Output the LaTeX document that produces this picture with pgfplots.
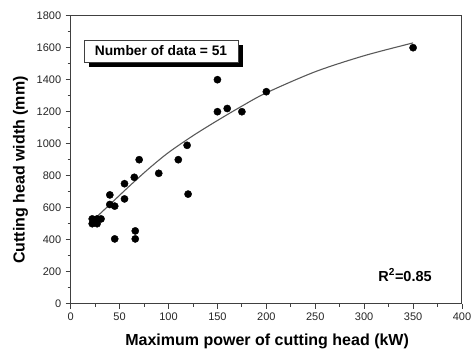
\documentclass[border=0pt]{standalone}
\usepackage{fontspec}
\setmainfont{Liberation Sans}
\usepackage{pgfplots}
\pgfplotsset{compat=1.18}
\usetikzlibrary{shadows}
\definecolor{axisgray}{gray}{0.25}
\definecolor{fitgray}{gray}{0.35}
\begin{document}
\begin{tikzpicture}
\begin{axis}[
  scale only axis,
  width=391.3pt, height=288pt,
  xmin=0, xmax=400, ymin=0, ymax=1800,
  xtick={0,50,...,400}, ytick={0,200,...,1800},
  minor x tick num=1, minor y tick num=1,
  tick pos=left, tick align=outside,
  major tick length=5pt, minor tick length=3pt,
  axis line style={axisgray, line width=1pt},
  every tick/.style={axisgray, line width=0.8pt},
  /pgf/number format/assume math mode=true,
  /pgf/number format/1000 sep={},
  tick label style={font=\fontsize{11}{13}\selectfont, text=black!85},
  xticklabel style={yshift=-1pt},
  yticklabel style={xshift=-1pt},
  xlabel={Maximum power of cutting head (kW)},
  ylabel={Cutting head width (mm)},
  xlabel style={at={(axis description cs:0.502,-0.1434)}, anchor=base, font=\bfseries\fontsize{16}{18}\selectfont},
  ylabel style={at={(axis description cs:-0.1176,0.464)}, anchor=base, rotate=0, font=\bfseries\fontsize{16}{18}\selectfont},
  clip=false,
]
\addplot[fitgray, line width=1.1pt, smooth, tension=0.5] coordinates {
  (20,505) (40,620) (60,735) (80,845) (100,945) (125,1050) (150,1145)
  (175,1235) (200,1318) (250,1450) (300,1550) (350,1630)
};
\addplot[only marks, mark=*, mark size=3.6pt, black] coordinates {
  (22,530) (22,500) (27,530) (27,500) (31,530) (24,515)
  (40,680) (40,620) (45,610) (45,405)
  (55,750) (55,655) (65,790) (66,455) (66,405)
  (70,900) (90,815) (110,900) (119,990) (120,685)
  (150,1200) (150,1400) (160,1220) (175,1200) (200,1325) (350,1600)
};
\node[draw=axisgray, line width=0.6pt, fill=white, minimum width=154pt, minimum height=22pt, inner sep=0pt,
  font=\bfseries\fontsize{13.8}{16}\selectfont,
  drop shadow={shadow xshift=5pt, shadow yshift=-5pt, fill=black, opacity=1}]
  at (axis cs:92.3,1579) {Number of data = 51};
\node[font=\bfseries\fontsize{14.5}{16}\selectfont] at (axis cs:341.8,179) {R\textsuperscript{2}=0.85};
\end{axis}
\pgfresetboundingbox
\path[use as bounding box] (current axis.origin) ++(-70.7pt,-45.3pt) rectangle ++(474pt,349pt);
\end{tikzpicture}
\end{document}
